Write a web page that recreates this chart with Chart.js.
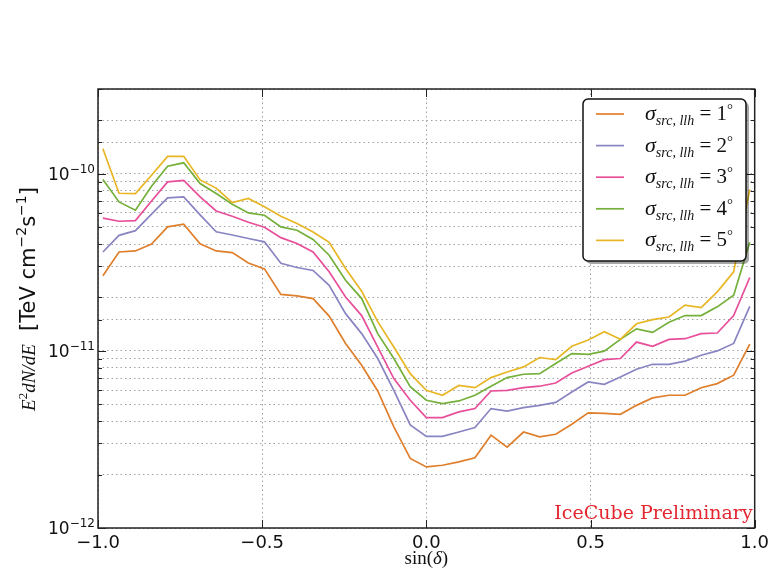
<!DOCTYPE html>
<html>
<head>
<meta charset="utf-8">
<script src="https://cdn.jsdelivr.net/npm/chart.js@4/dist/chart.umd.min.js"></script>
<style>
html,body{margin:0;padding:0;background:#fff;}
canvas{display:block;}
</style>
</head>
<body>
<canvas id="flux" width="774" height="577"></canvas>
<script>
// sin(declination) of each point
const sinDec = [-0.985,-0.936,-0.886,-0.837,-0.788,-0.739,-0.689,-0.640,-0.591,-0.542,
  -0.493,-0.443,-0.394,-0.345,-0.296,-0.246,-0.197,-0.148,-0.099,-0.049,
  0.000,0.049,0.099,0.148,0.197,0.246,0.296,0.345,0.394,0.443,
  0.493,0.542,0.591,0.640,0.689,0.739,0.788,0.837,0.886,0.936,0.985];

// E^2 dN/dE sensitivity, one array per sigma_src,llh
const flux1deg = [2.65e-11,3.61e-11,3.66e-11,4.00e-11,5.00e-11,5.18e-11,4.02e-11,3.66e-11,3.58e-11,3.13e-11,
  2.90e-11,2.08e-11,2.04e-11,1.97e-11,1.57e-11,1.10e-11,8.28e-12,5.93e-12,3.72e-12,2.47e-12,
  2.21e-12,2.26e-12,2.36e-12,2.49e-12,3.34e-12,2.86e-12,3.48e-12,3.27e-12,3.38e-12,3.85e-12,
  4.46e-12,4.43e-12,4.38e-12,4.92e-12,5.42e-12,5.61e-12,5.61e-12,6.19e-12,6.53e-12,7.28e-12,1.09e-11];
const flux2deg = [3.61e-11,4.48e-11,4.76e-11,5.91e-11,7.30e-11,7.38e-11,5.85e-11,4.69e-11,4.50e-11,4.30e-11,
  4.12e-11,3.12e-11,2.95e-11,2.84e-11,2.34e-11,1.62e-11,1.25e-11,9.04e-12,5.98e-12,3.82e-12,
  3.29e-12,3.29e-12,3.48e-12,3.69e-12,4.72e-12,4.57e-12,4.78e-12,4.92e-12,5.11e-12,5.85e-12,
  6.67e-12,6.47e-12,7.11e-12,7.87e-12,8.39e-12,8.39e-12,8.75e-12,9.44e-12,9.98e-12,1.10e-11,1.78e-11];
const flux3deg = [5.61e-11,5.38e-11,5.43e-11,7.00e-11,8.97e-11,9.16e-11,7.38e-11,6.15e-11,5.74e-11,5.31e-11,
  4.98e-11,4.35e-11,4.03e-11,3.61e-11,2.79e-11,2.01e-11,1.58e-11,1.05e-11,6.97e-12,5.26e-12,
  4.20e-12,4.20e-12,4.52e-12,4.72e-12,5.93e-12,5.98e-12,6.19e-12,6.31e-12,6.58e-12,7.50e-12,
  8.18e-12,8.91e-12,9.04e-12,1.12e-11,1.06e-11,1.16e-11,1.17e-11,1.25e-11,1.26e-11,1.58e-11,2.59e-11];
const flux4deg = [9.25e-11,6.92e-11,6.21e-11,8.48e-11,1.10e-10,1.15e-10,8.79e-11,7.71e-11,6.72e-11,6.00e-11,
  5.82e-11,5.00e-11,4.79e-11,4.25e-11,3.46e-11,2.50e-11,1.97e-11,1.25e-11,9.04e-12,6.28e-12,
  5.26e-12,5.04e-12,5.21e-12,5.61e-12,6.31e-12,7.06e-12,7.37e-12,7.43e-12,8.47e-12,9.64e-12,
  9.55e-12,9.96e-12,1.16e-11,1.33e-11,1.27e-11,1.45e-11,1.58e-11,1.58e-11,1.77e-11,2.06e-11,4.09e-11];
const flux5deg = [1.38e-10,7.74e-11,7.71e-11,9.78e-11,1.25e-10,1.25e-10,9.21e-11,8.28e-11,6.86e-11,7.23e-11,
  6.50e-11,5.75e-11,5.22e-11,4.68e-11,4.09e-11,2.91e-11,2.17e-11,1.46e-11,1.05e-11,7.43e-12,
  5.98e-12,5.61e-12,6.37e-12,6.19e-12,7.06e-12,7.59e-12,8.11e-12,9.16e-12,8.91e-12,1.06e-11,
  1.15e-11,1.28e-11,1.16e-11,1.42e-11,1.50e-11,1.55e-11,1.81e-11,1.75e-11,2.15e-11,2.79e-11,8.15e-11];

const sigmaDeg = [1, 2, 3, 4, 5];
const seriesFlux = [flux1deg, flux2deg, flux3deg, flux4deg, flux5deg];
const lineColors = ['#df7f2c', '#8985c2', '#e84f9a', '#74b03a', '#e8b625'];
const xTickValues = [-1, -0.5, 0, 0.5, 1];
const yMin = 1e-12, yMax = 3e-10;

const isPow10 = v => Math.abs(Math.log10(v) - Math.round(Math.log10(v))) < 1e-6;

const datasets = seriesFlux.map((arr, i) => ({
  label: 'σ src,llh = ' + sigmaDeg[i] + '°',
  data: arr.map((v, k) => ({x: sinDec[k], y: v})),
  borderColor: lineColors[i],
  borderWidth: 1.7,
  pointRadius: 0,
  tension: 0,
  order: 4 - i
}));

// draws runs of text with different fonts in a row
function runsWidth(ctx, runs){
  let w = 0;
  for (const r of runs){ ctx.font = r.f; w += ctx.measureText(r.t).width; }
  return w;
}
function drawRuns(ctx, runs, x, y){
  for (const r of runs){
    ctx.font = r.f;
    ctx.fillText(r.t, x, y + (r.dy || 0));
    x += ctx.measureText(r.t).width;
  }
}

const decorPlugin = {
  id: 'decor',
  afterDatasetsDraw(chart){
    const {ctx, chartArea: a, scales: {x, y}} = chart;
    ctx.save();
    ctx.strokeStyle = '#222';
    ctx.lineWidth = 1;
    const seg = (x1, y1, x2, y2) => { ctx.beginPath(); ctx.moveTo(x1, y1); ctx.lineTo(x2, y2); ctx.stroke(); };
    // inward tick marks
    y.ticks.forEach(t => {
      const py = Math.round(y.getPixelForValue(t.value)) + 0.5;
      const len = isPow10(t.value) ? 8 : 4;
      seg(a.left, py, a.left + len, py);
      seg(a.right, py, a.right - len, py);
    });
    x.ticks.forEach(t => {
      const px = Math.round(x.getPixelForValue(t.value)) + 0.5;
      seg(px, a.bottom, px, a.bottom - 8);
      seg(px, a.top, px, a.top + 8);
    });
    // frame
    ctx.lineWidth = 1.5;
    ctx.strokeRect(a.left, a.top, a.right - a.left, a.bottom - a.top);

    // y tick labels as 10 with raised exponent
    ctx.fillStyle = '#111';
    ctx.textBaseline = 'alphabetic';
    y.ticks.forEach(t => {
      if (!isPow10(t.value)) return;
      const py = y.getPixelForValue(t.value);
      const runs = [
        {t: '10', f: '17px "DejaVu Sans"'},
        {t: '\u2212' + Math.abs(Math.round(Math.log10(t.value))), f: '12px "DejaVu Sans"', dy: -7}
      ];
      drawRuns(ctx, runs, a.left - 3 - runsWidth(ctx, runs), py + 6);
    });

    // IceCube Preliminary
    ctx.fillStyle = '#e3262f';
    ctx.font = '19px "DejaVu Serif"';
    ctx.textAlign = 'right';
    ctx.fillText('IceCube Preliminary', a.right - 2, a.bottom - 9);

    // legend box
    const lx = 583, ly = 99, lw = 163, lh = 162;
    ctx.fillStyle = 'rgba(0,0,0,0.35)';
    ctx.beginPath(); ctx.roundRect(lx + 3, ly + 3, lw, lh, 5); ctx.fill();
    ctx.fillStyle = '#fff';
    ctx.strokeStyle = '#111';
    ctx.lineWidth = 1.5;
    ctx.beginPath(); ctx.roundRect(lx, ly, lw, lh, 5); ctx.fill(); ctx.stroke();
    ctx.textAlign = 'left';
    chart.data.datasets.forEach((ds, i) => {
      const cy = 114 + i * 31.6;
      ctx.strokeStyle = ds.borderColor;
      ctx.lineWidth = 1.7;
      seg(596, cy, 624, cy);
      ctx.fillStyle = '#111';
      drawRuns(ctx, [
        {t: 'σ', f: 'italic 22px "Liberation Serif"'},
        {t: 'src, llh', f: 'italic 14px "Liberation Serif"', dy: 5},
        {t: ' = ', f: '21px "Liberation Serif"'},
        {t: String(sigmaDeg[i]), f: '21px "Liberation Serif"'},
        {t: '°', f: '15px "Liberation Serif"', dy: -6}
      ], 645, cy + 6);
    });

    // axis titles
    ctx.fillStyle = '#111';
    const xr = [
      {t: 'sin(', f: '19px "Liberation Serif"'},
      {t: 'δ', f: 'italic 19px "Liberation Serif"'},
      {t: ')', f: '19px "Liberation Serif"'}
    ];
    drawRuns(ctx, xr, (a.left + a.right) / 2 - runsWidth(ctx, xr) / 2, 564);

    const yr = [
      {t: 'E', f: 'italic 19px "Liberation Serif"'},
      {t: '2', f: '13px "Liberation Serif"', dy: -8},
      {t: 'dN/dE', f: 'italic 19px "Liberation Serif"'},
      {t: '  [TeV cm', f: '21px "DejaVu Sans"'},
      {t: '\u22122', f: '14px "DejaVu Sans"', dy: -9},
      {t: 's', f: '21px "DejaVu Sans"'},
      {t: '\u22121', f: '14px "DejaVu Sans"', dy: -9},
      {t: ']', f: '21px "DejaVu Sans"'}
    ];
    ctx.translate(35, 299);
    ctx.rotate(-Math.PI / 2);
    drawRuns(ctx, yr, -runsWidth(ctx, yr) / 2, 0);
    ctx.restore();
  }
};

new Chart(document.getElementById('flux'), {
  type: 'line',
  data: {datasets},
  options: {
    responsive: false,
    animation: false,
    parsing: false,
    layout: {padding: {top: 89, right: 19, bottom: 0, left: 0}},
    plugins: {legend: {display: false}, tooltip: {enabled: false}},
    scales: {
      x: {
        type: 'linear', min: -1, max: 1,
        afterBuildTicks: s => { s.ticks = xTickValues.map(v => ({value: v})); },
        afterFit: s => { s.height = 49; },
        ticks: {
          padding: 5, color: '#111',
          font: {family: 'DejaVu Sans', size: 18},
          callback: v => v.toFixed(1).replace('-', '\u2212')
        },
        grid: {color: '#a2a2a2', lineWidth: 1, drawTicks: false},
        border: {display: false, dash: [1.5, 3]}
      },
      y: {
        type: 'logarithmic', min: yMin, max: yMax,
        afterFit: s => { s.width = 98; },
        ticks: {autoSkip: false, display: false},
        grid: {color: '#a2a2a2', lineWidth: 1, drawTicks: false},
        border: {display: false, dash: [1.5, 3]}
      }
    }
  },
  plugins: [decorPlugin]
});
</script>
</body>
</html>
